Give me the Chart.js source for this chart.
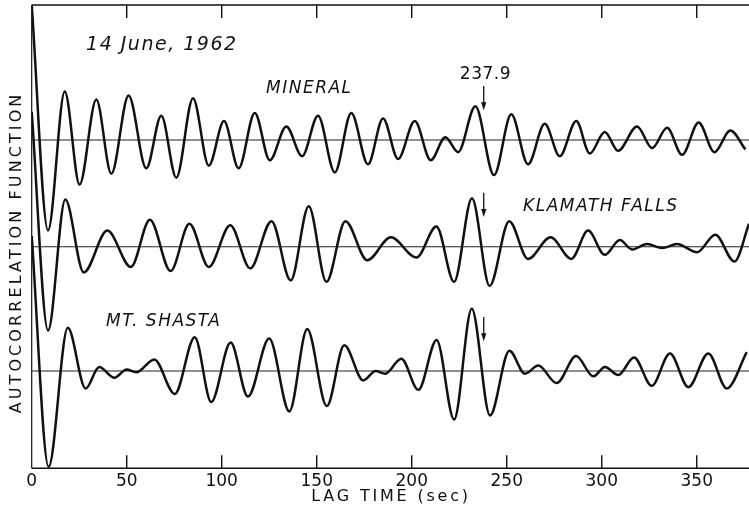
<!DOCTYPE html>
<html><head><meta charset="utf-8">
<script src="https://cdn.jsdelivr.net/npm/chart.js@4/dist/chart.umd.min.js"></script>
<style>html,body{margin:0;padding:0;background:#fff}canvas{display:block}</style>
</head><body>
<canvas id="c" width="749" height="509"></canvas>
<script>
// ---- data (lag in sec, normalized autocorrelation at extrema) ----
const lagMineral = [0, 8.6, 17.4, 25.2, 34, 41.9, 51, 60.3, 68.2, 76.1, 84.9, 93.2, 101.2, 108.9, 117.4, 125.3, 134, 142.3, 150.7, 159.5, 168.2, 177, 184.9, 192.8, 201.6, 210, 217.7, 224.4, 233.5, 243.3, 252.4, 261.2, 270, 277.9, 286.6, 293.7, 301.6, 308.6, 318.6, 326.5, 334.4, 342.3, 351, 359.3, 367.7, 375.6];
const acfMineral = [1.00, -0.67, 0.36, -0.33, 0.30, -0.25, 0.33, -0.21, 0.18, -0.28, 0.31, -0.19, 0.14, -0.21, 0.20, -0.15, 0.10, -0.12, 0.18, -0.24, 0.20, -0.18, 0.16, -0.14, 0.14, -0.15, 0.02, -0.09, 0.25, -0.26, 0.19, -0.18, 0.12, -0.12, 0.14, -0.10, 0.06, -0.08, 0.10, -0.06, 0.09, -0.11, 0.13, -0.09, 0.07, -0.07];

const lagKlamath = [0, 8.6, 17.7, 27.4, 39.8, 52.2, 62.2, 73.1, 83, 93.2, 104.5, 115, 126.2, 136.3, 145.8, 155.1, 165.1, 176.6, 189, 202.5, 213, 222.3, 231.7, 241, 251.3, 261.2, 273.1, 284, 292.8, 301.6, 309.5, 316, 323.9, 331.8, 339.6, 350.2, 359.8, 369.8, 377.5];
const acfKlamath = [1.00, -0.62, 0.35, -0.19, 0.12, -0.15, 0.20, -0.18, 0.17, -0.15, 0.16, -0.16, 0.19, -0.25, 0.30, -0.26, 0.19, -0.10, 0.07, -0.08, 0.15, -0.26, 0.36, -0.29, 0.19, -0.09, 0.07, -0.09, 0.12, -0.06, 0.05, -0.02, 0.02, -0.01, 0.02, -0.04, 0.09, -0.11, 0.17];

const lagShasta = [0, 8.9, 19, 28.4, 35.5, 43.5, 50, 55, 64.5, 75.3, 85.8, 94.5, 104.7, 113.8, 125, 135.6, 145, 155.3, 164.5, 174.5, 181, 186, 194.5, 203.5, 213.1, 222.3, 231.6, 241.2, 251.4, 259.6, 266.6, 276.3, 286.5, 295.6, 301.7, 308.7, 317, 326.3, 335.9, 345.6, 356.1, 365.8, 376.3];
const acfShasta = [1.00, -0.71, 0.32, -0.13, 0.03, -0.05, 0.01, -0.01, 0.085, -0.17, 0.25, -0.23, 0.21, -0.19, 0.24, -0.30, 0.31, -0.26, 0.19, -0.07, 0.00, -0.02, 0.09, -0.14, 0.23, -0.36, 0.46, -0.33, 0.15, -0.02, 0.04, -0.09, 0.11, -0.04, 0.03, -0.03, 0.10, -0.11, 0.13, -0.12, 0.13, -0.13, 0.14];

const stationNames = ['MINERAL', 'KLAMATH FALLS', 'MT. SHASTA'];
const xTickStep = 50;
const markedLag = 237.9;
const dateLabel = '14 June, 1962';
const xTitle = 'LAG TIME (sec)';
const yTitle = 'AUTOCORRELATION FUNCTION';

// ---- layout (vertical offsets of each trace, axis extents) ----
const X_MAX = 377.5, Y_MAX = 3.432;
const offsets = [2.432, 1.641, 0.721];
const lags = [lagMineral, lagKlamath, lagShasta];
const acfs = [acfMineral, acfKlamath, acfShasta];

const FAM = '"DejaVu Sans", "Liberation Sans", sans-serif';
const datasets = [];
lags.forEach((l, k) => {
  datasets.push({
    label: stationNames[k],
    data: l.map((t, i) => ({x: t, y: acfs[k][i] + offsets[k]})),
    borderColor: '#111', borderWidth: 2.5, pointRadius: 0, fill: false,
    cubicInterpolationMode: 'monotone'
  });
});
offsets.forEach((o, k) => {
  datasets.push({
    label: stationNames[k] + ' zero',
    data: [{x: 0, y: o}, {x: X_MAX, y: o}],
    borderColor: '#222', borderWidth: 1.1, pointRadius: 0, fill: false
  });
});

const labels = [
  {text: dateLabel, x: 28.6, y: 3.136, size: 19, italic: true, align: 'left', sp: 1.5},
  {text: stationNames[0], x: 123.3, y: 2.813, size: 17, italic: true, align: 'left', sp: 1.5},
  {text: String(markedLag), x: 238.8, y: 2.913, size: 17, italic: false, align: 'center', sp: 0.5},
  {text: stationNames[1], x: 258.6, y: 1.936, size: 17, italic: true, align: 'left', sp: 1.5},
  {text: stationNames[2], x: 39.1, y: 1.087, size: 17, italic: true, align: 'left', sp: 1.5}
];

function drawText(ctx, s, x, y, size, italic, align, sp) {
  ctx.font = (italic ? 'italic ' : '') + size + 'px ' + FAM;
  ctx.letterSpacing = sp + 'px';
  ctx.textAlign = align;
  ctx.textBaseline = 'middle';
  ctx.fillStyle = '#111';
  ctx.fillText(s, x, y);
}

const deco = {
  id: 'deco',
  afterDatasetsDraw(chart) {
    const {ctx, chartArea: a, scales: {x, y}} = chart;
    ctx.save();
    ctx.strokeStyle = '#111';
    // frame
    ctx.lineWidth = 1.6;
    ctx.beginPath();
    ctx.moveTo(a.left, a.top); ctx.lineTo(a.right, a.top);
    ctx.moveTo(a.left, a.bottom); ctx.lineTo(a.right, a.bottom);
    ctx.stroke();
    ctx.lineWidth = 1.2;
    ctx.beginPath();
    ctx.moveTo(a.left, a.top); ctx.lineTo(a.left, a.bottom);
    ctx.stroke();
    // inward tick marks top and bottom
    ctx.lineWidth = 1.4;
    ctx.beginPath();
    x.ticks.forEach(t => {
      if (t.value <= 0) return;
      const px = x.getPixelForValue(t.value);
      ctx.moveTo(px, a.top); ctx.lineTo(px, a.top + 13);
      ctx.moveTo(px, a.bottom); ctx.lineTo(px, a.bottom - 13);
    });
    ctx.stroke();
    // arrows at marked lag
    const ax = x.getPixelForValue(markedLag);
    offsets.forEach(o => {
      const y1 = y.getPixelForValue(o + 0.40), y2 = y.getPixelForValue(o + 0.22);
      ctx.lineWidth = 1.3;
      ctx.beginPath(); ctx.moveTo(ax, y1); ctx.lineTo(ax, y2 - 6); ctx.stroke();
      ctx.beginPath(); ctx.moveTo(ax - 2.6, y2 - 8); ctx.lineTo(ax + 2.6, y2 - 8); ctx.lineTo(ax, y2); ctx.closePath();
      ctx.fillStyle = '#111'; ctx.fill();
    });
    // labels
    labels.forEach(l => drawText(ctx, l.text, x.getPixelForValue(l.x), y.getPixelForValue(l.y), l.size, l.italic, l.align, l.sp));
    // axis titles
    drawText(ctx, xTitle, x.getPixelForValue(188.6) + 1, a.bottom + 29, 16, false, 'center', 2.8);
    ctx.save();
    ctx.translate(a.left - 15, y.getPixelForValue(1.599));
    ctx.rotate(-Math.PI / 2);
    drawText(ctx, yTitle, 0, 0, 16, false, 'center', 3.1);
    ctx.restore();
    ctx.restore();
  }
};

new Chart(document.getElementById('c'), {
  type: 'line',
  data: {datasets},
  options: {
    responsive: false, animation: false, events: [],
    layout: {padding: {left: 31.7, top: 5, right: 0, bottom: 0}},
    plugins: {legend: {display: false}, tooltip: {enabled: false}},
    scales: {
      x: {
        type: 'linear', min: 0, max: X_MAX,
        afterFit(a) { a.height = 40.7; },
        grid: {display: false}, border: {display: false},
        ticks: {stepSize: xTickStep, includeBounds: false, color: '#111', maxRotation: 0, autoSkip: false,
                font: {family: FAM, size: 17}, padding: -5}
      },
      y: {display: false, min: 0, max: Y_MAX}
    }
  },
  plugins: [deco]
});
</script>
</body></html>
